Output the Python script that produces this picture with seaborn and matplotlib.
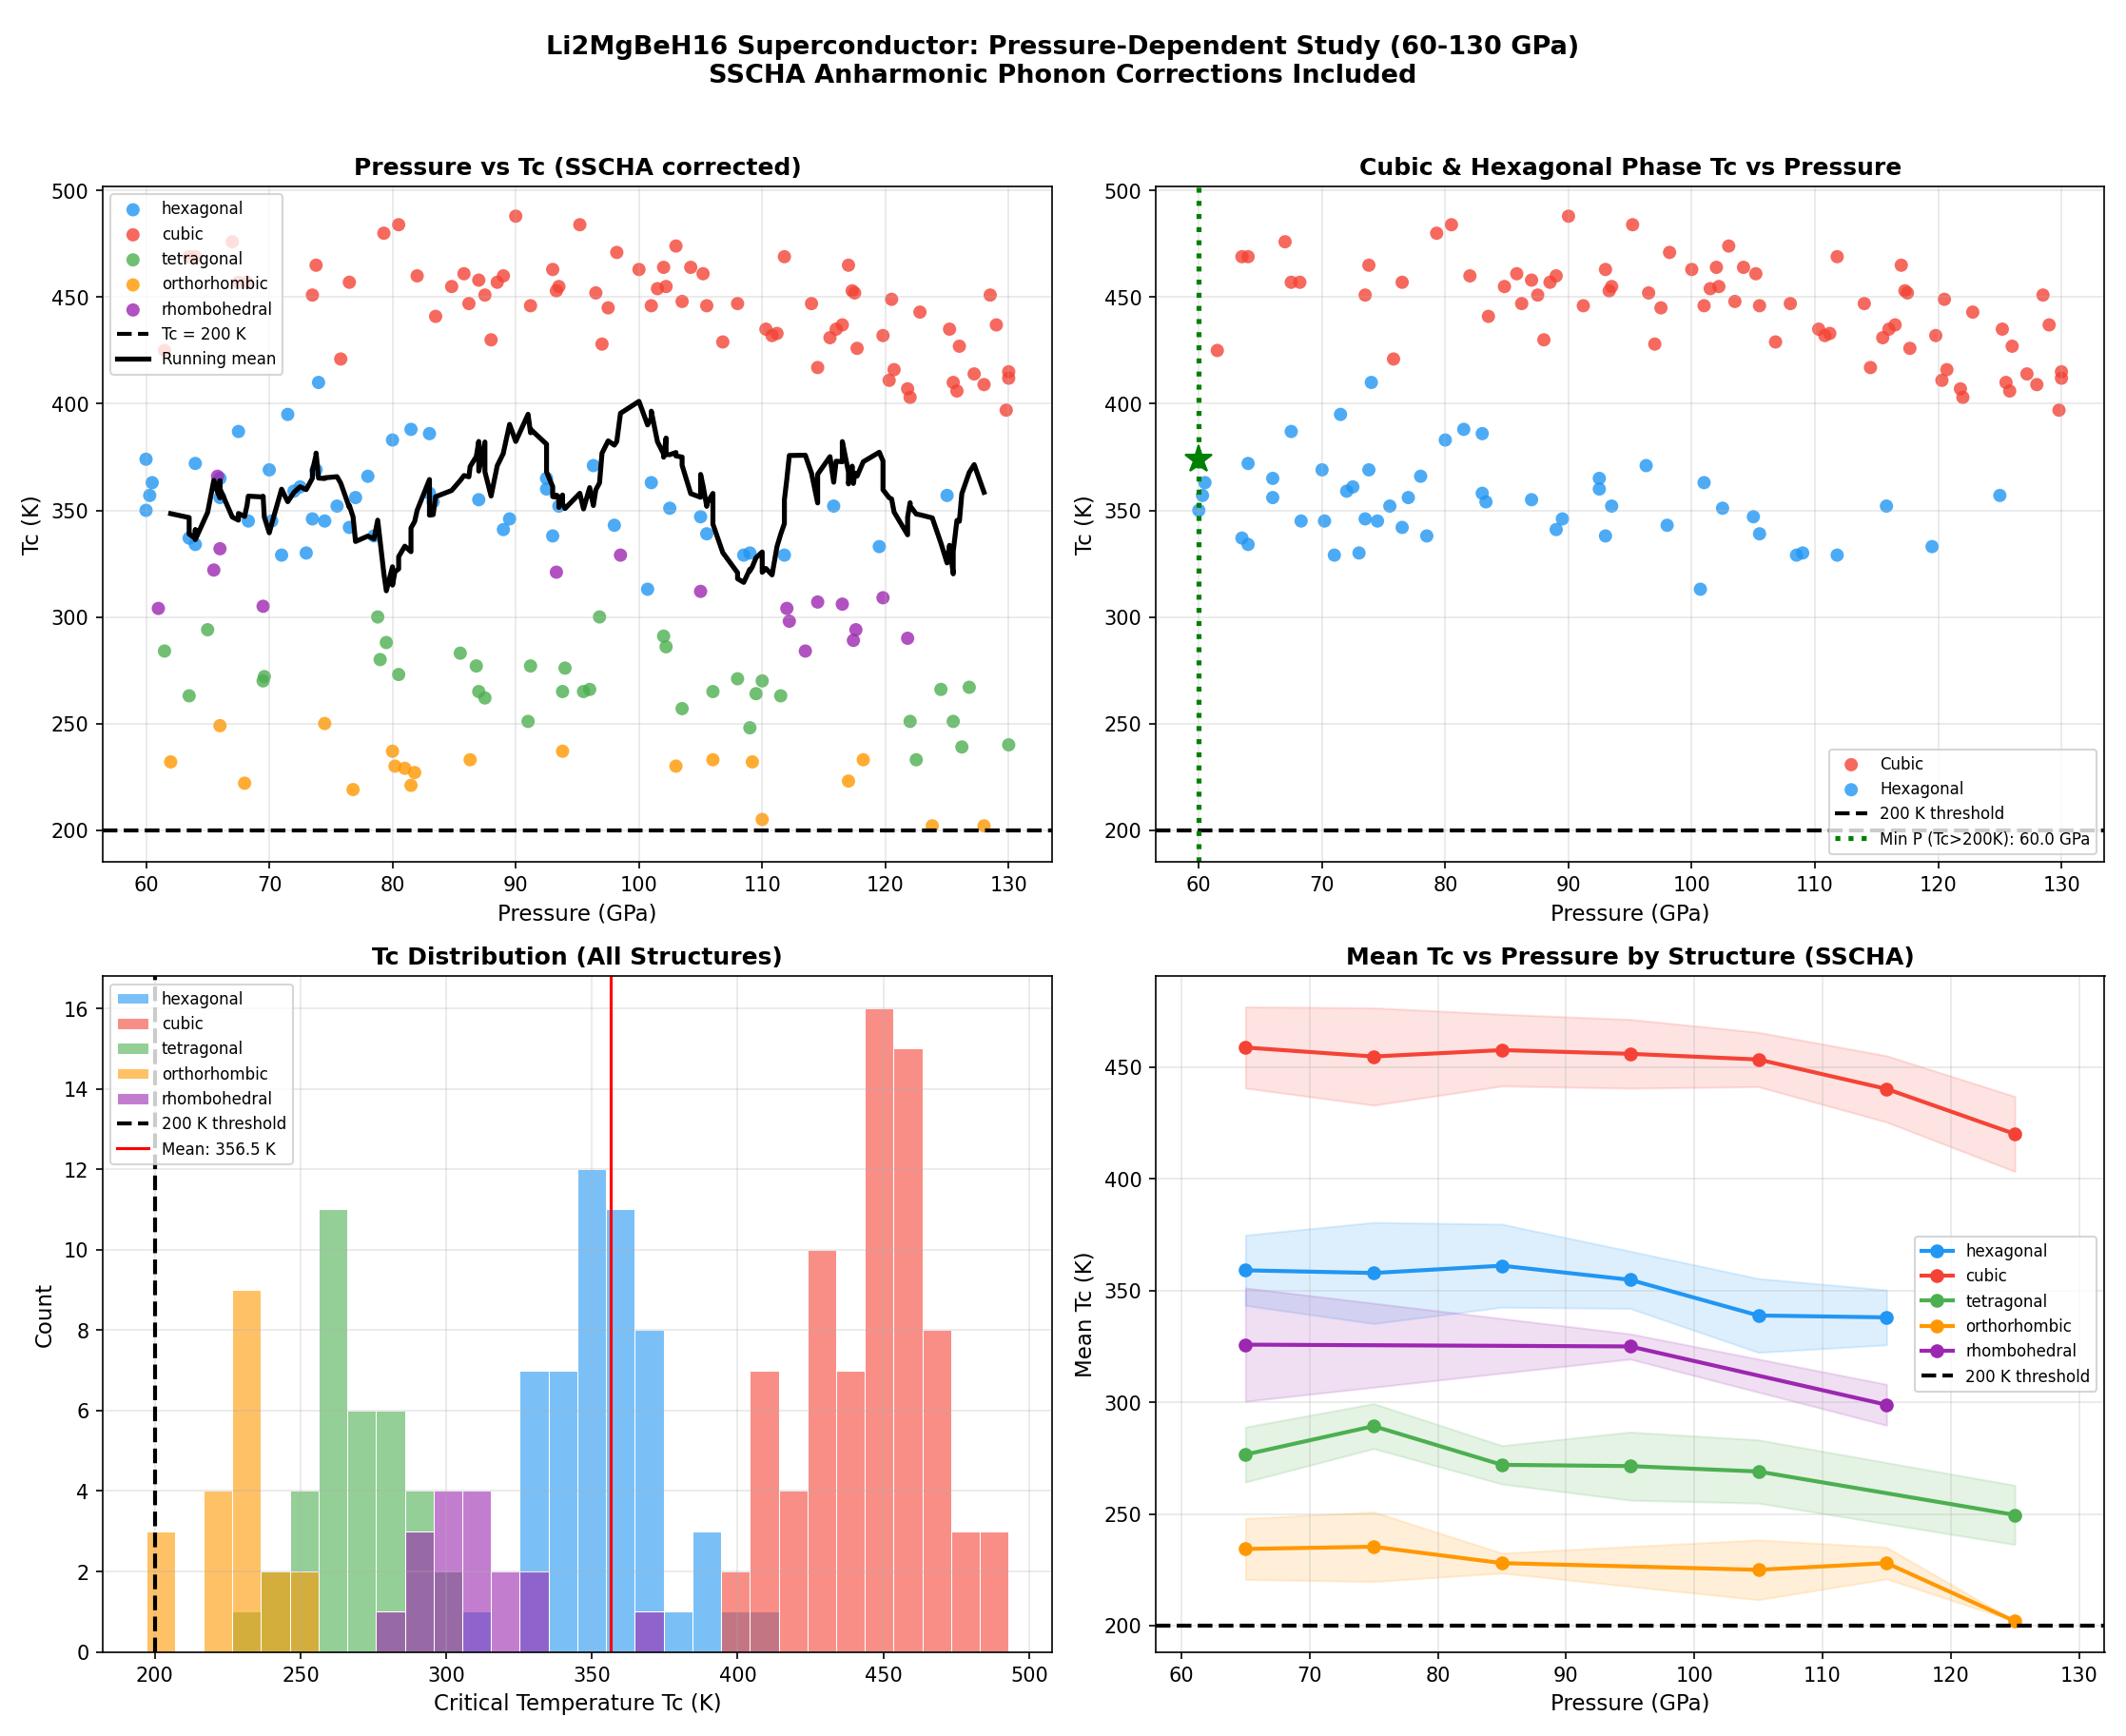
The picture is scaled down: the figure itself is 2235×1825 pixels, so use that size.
import numpy as np
import pandas as pd
import matplotlib.pyplot as plt
import seaborn as sns

# dane: (cisnienie GPa, Tc K)
hex_p = [60, 60.3, 60.5, 60, 63.5, 64, 64, 66, 66, 67.5, 68.3, 70, 70.2, 71, 71.5, 72, 72.5, 73, 73.5, 73.8, 74, 74.5,
         75.5, 76.5, 77, 78, 78.5, 80, 81.5, 83, 83, 83.3, 87, 89, 89.5, 92.5, 92.5, 93, 93.5, 96.3, 98, 100.7, 101,
         102.5, 105, 105.5, 108.5, 109, 111.8, 115.8, 119.5, 125]
hex_tc = [350, 357, 363, 374, 337, 334, 372, 356, 365, 387, 345, 369, 345, 329, 395, 359, 361, 330, 346, 369, 410, 345,
          352, 342, 356, 366, 338, 383, 388, 386, 358, 354, 355, 341, 346, 360, 365, 338, 352, 371, 343, 313, 363,
          351, 347, 339, 329, 330, 329, 352, 333, 357]
cub_p = [61.5, 63.5, 64, 67, 67.5, 68.2, 73.5, 73.8, 75.8, 76.5, 79.3, 80.5, 82, 83.5, 84.8, 85.8, 86.2, 87, 87.5, 88,
         88.5, 89, 90, 91.2, 93, 93.3, 93.5, 95.2, 96.5, 97, 97.5, 98.2, 100, 101, 101.5, 102, 102.2, 103, 103.5, 104.2,
         105.2, 105.5, 106.8, 108, 110.3, 110.8, 111.2, 111.8, 114, 114.5, 115.5, 116, 116.5, 117, 117.3, 117.5, 117.7,
         119.8, 120.3, 120.5, 120.7, 121.8, 122, 122.8, 125.2, 125.5, 125.8, 126, 127.2, 128, 128.5, 129, 129.8, 130, 130]
cub_tc = [425, 469, 469, 476, 457, 457, 451, 465, 421, 457, 480, 484, 460, 441, 455, 461, 447, 458, 451, 430,
          457, 460, 488, 446, 463, 453, 455, 484, 452, 428, 445, 471, 463, 446, 454, 464, 455, 474, 448, 464,
          461, 446, 429, 447, 435, 432, 433, 469, 447, 417, 431, 435, 437, 465, 453, 452, 426,
          432, 411, 449, 416, 407, 403, 443, 435, 410, 406, 427, 414, 409, 451, 437, 397, 415, 412]
tet_p = [61.5, 63.5, 65, 69.5, 69.6, 78.8, 79, 79.5, 80.5, 85.5, 86.8, 87, 87.5, 91, 91.2, 93.8, 94, 95.5, 96, 96.8,
         102, 102.2, 103.5, 106, 108, 109, 109.5, 110, 111.5, 122, 122.5, 124.5, 125.5, 126.2, 126.8, 130]
tet_tc = [284, 263, 294, 270, 272, 300, 280, 288, 273, 283, 277, 265, 262, 251, 277, 265, 276, 265, 266, 300,
          291, 286, 257, 265, 271, 248, 264, 270, 263, 251, 233, 266, 251, 239, 267, 240]
ort_p = [62, 66, 68, 74.5, 76.8, 80, 80.2, 81, 81.5, 81.8, 86.3, 93.8, 103, 106, 109.2, 110, 117, 118.2, 123.8, 128]
ort_tc = [232, 249, 222, 250, 219, 237, 230, 229, 221, 227, 233, 237, 230, 233, 232, 205, 223, 233, 202, 202]
rho_p = [61, 65.5, 65.8, 66, 69.5, 93.3, 98.5, 105, 112, 112.2, 113.5, 114.5, 116.5, 117.4, 117.6, 119.8, 121.8]
rho_tc = [304, 322, 366, 332, 305, 321, 329, 312, 304, 298, 284, 307, 306, 289, 294, 309, 290]

struktury = ["hexagonal", "cubic", "tetragonal", "orthorhombic", "rhombohedral"]
kolory = {"hexagonal": "#2196F3", "cubic": "#F44336", "tetragonal": "#4CAF50",
          "orthorhombic": "#FF9800", "rhombohedral": "#9C27B0"}
pary = {"hexagonal": (hex_p, hex_tc), "cubic": (cub_p, cub_tc), "tetragonal": (tet_p, tet_tc),
        "orthorhombic": (ort_p, ort_tc), "rhombohedral": (rho_p, rho_tc)}

dane = pd.concat([pd.DataFrame({"p": pary[s][0], "tc": pary[s][1], "s": s}) for s in struktury], ignore_index=True)

fig, axes = plt.subplots(2, 2, figsize=(14.9, 12.17), dpi=150)
fig.suptitle("Li2MgBeH16 Superconductor: Pressure-Dependent Study (60-130 GPa)\nSSCHA Anharmonic Phonon Corrections Included",
             fontsize=13, fontweight="bold")

# 1) cisnienie vs Tc
ax = axes[0, 0]
for s in struktury:
    d = dane[dane.s == s]
    sns.scatterplot(x=d.p, y=d.tc, ax=ax, color=kolory[s], s=45, alpha=0.8, edgecolor="none", label=s)
ax.axhline(200, color="black", ls="--", lw=2, label="Tc = 200 K")
srt = dane.sort_values("p")
rm = srt.tc.rolling(15, center=True).mean()
ax.plot(srt.p, rm, color="black", lw=2.5, label="Running mean")
ax.set_title("Pressure vs Tc (SSCHA corrected)", fontweight="bold")
ax.set_xlabel("Pressure (GPa)", fontsize=11)
ax.set_ylabel("Tc (K)", fontsize=11)
ax.set_ylim(185, 502)
ax.legend(loc="upper left", fontsize=8)
ax.grid(alpha=0.3)

# 2) cubic i hexagonal
ax = axes[0, 1]
for s, nazwa in [("cubic", "Cubic"), ("hexagonal", "Hexagonal")]:
    d = dane[dane.s == s]
    sns.scatterplot(x=d.p, y=d.tc, ax=ax, color=kolory[s], s=45, alpha=0.8, edgecolor="none", label=nazwa)
ax.axhline(200, color="black", ls="--", lw=2, label="200 K threshold")
pow200 = dane[dane.tc > 200]
pmin = pow200.p.min()
ax.axvline(pmin, color="green", ls=":", lw=2.5, label=f"Min P (Tc>200K): {pmin:.1f} GPa")
ax.plot(pmin, pow200[pow200.p == pmin].tc.max(), marker="*", color="green", ms=14)
ax.set_title("Cubic & Hexagonal Phase Tc vs Pressure", fontweight="bold")
ax.set_xlabel("Pressure (GPa)", fontsize=11)
ax.set_ylabel("Tc (K)", fontsize=11)
ax.set_ylim(185, 502)
ax.legend(loc="lower right", fontsize=8)
ax.grid(alpha=0.3)

# 3) histogram
ax = axes[1, 0]
biny = np.linspace(dane.tc.min() - 5, dane.tc.max() + 5, 31)
for s in struktury:
    d = dane[dane.s == s]
    sns.histplot(x=d.tc, bins=biny, ax=ax, color=kolory[s], alpha=0.6, edgecolor="white", linewidth=0.5, label=s)
ax.axvline(200, color="black", ls="--", lw=2, label="200 K threshold")
srednia = dane.tc.mean()
ax.axvline(srednia, color="red", lw=1.5, label=f"Mean: {srednia:.1f} K")
uch, et = ax.get_legend_handles_labels()
kol = [et.index(e) for e in struktury + ["200 K threshold", f"Mean: {srednia:.1f} K"]]
ax.legend([uch[i] for i in kol], [et[i] for i in kol], loc="upper left", fontsize=8)
ax.set_title("Tc Distribution (All Structures)", fontweight="bold")
ax.set_xlabel("Critical Temperature Tc (K)", fontsize=11)
ax.set_ylabel("Count", fontsize=11)
ax.grid(alpha=0.3)

# 4) srednie Tc w przedzialach cisnienia
ax = axes[1, 1]
krawedzie = np.arange(60, 140, 10)
dane["bin"] = pd.cut(dane.p, krawedzie, include_lowest=True, labels=krawedzie[:-1] + 5)
for s in struktury:
    g = dane[dane.s == s].groupby("bin", observed=True).tc.agg(["mean", "std", "size"])
    g = g[g["size"] >= 2].reset_index()
    x = g["bin"].astype(float)
    ax.plot(x, g["mean"], marker="o", color=kolory[s], lw=2, label=s)
    ax.fill_between(x, g["mean"] - g["std"], g["mean"] + g["std"], color=kolory[s], alpha=0.15)
ax.axhline(200, color="black", ls="--", lw=2, label="200 K threshold")
ax.set_title("Mean Tc vs Pressure by Structure (SSCHA)", fontweight="bold")
ax.set_xlabel("Pressure (GPa)", fontsize=11)
ax.set_ylabel("Mean Tc (K)", fontsize=11)
ax.set_xlim(58, 132)
ax.legend(loc="center right", fontsize=8)
ax.grid(alpha=0.3)

plt.tight_layout(rect=[0, 0, 1, 0.965])
plt.savefig("out.png", dpi=150)
